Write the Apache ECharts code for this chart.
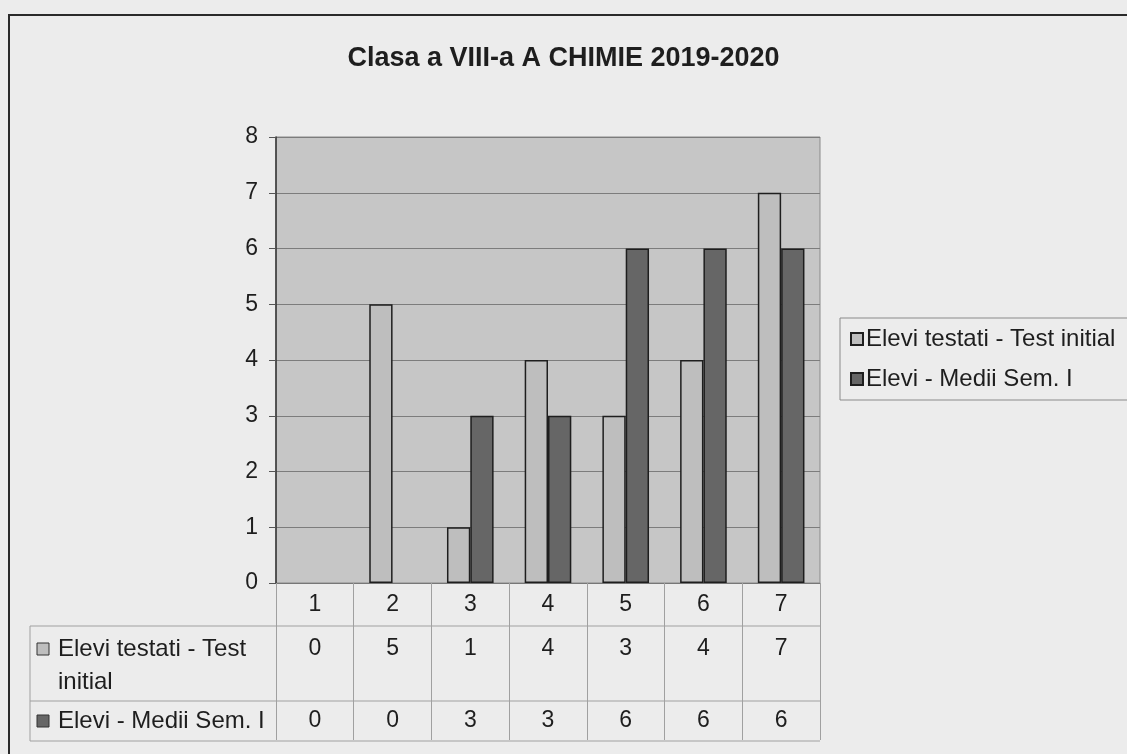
<!DOCTYPE html>
<html style="height: 100%">
   <head>
       <meta charset="utf-8">
   </head>
   <body style="height: 100%; margin: 0; background: #ececec">
       <div id="container" style="width: 1127px; height: 754px"></div>
       <script type="text/javascript" src="https://cdn.jsdelivr.net/npm/echarts@6/dist/echarts.min.js"></script>
       <script type="text/javascript">
var dom = document.getElementById("container");
var myChart = echarts.init(dom);

var chartTitle = 'Clasa a VIII-a A CHIMIE 2019-2020';
var categories = ['1', '2', '3', '4', '5', '6', '7'];
var seriesNames = ['Elevi testati - Test initial', 'Elevi - Medii Sem. I'];
var testInitial = [0, 5, 1, 4, 3, 4, 7];
var mediiSem = [0, 0, 3, 3, 6, 6, 6];
// row labels of the data table (first one wraps like in excel)
var rowLabels = [['Elevi testati - Test', 'initial'], ['Elevi - Medii Sem. I']];

var lightFill = '#bebebe';
var darkFill = '#666666';
var font = 'Liberation Sans, Arial, sans-serif';

// zero bars have no outline in excel
function barData(vals) {
    return vals.map(function (v) {
        return v === 0 ? { value: v, itemStyle: { borderWidth: 0 } } : v;
    });
}

var option = {
    backgroundColor: '#ececec',
    animation: false,
    title: {
        text: chartTitle,
        left: 'center',
        top: 40,
        textStyle: { fontFamily: font, fontSize: 27, fontWeight: 'bold', color: '#1e1e1e' }
    },
    legend: {
        orient: 'vertical',
        left: 840,
        top: 318,
        padding: [9, 30, 9, 10],
        itemGap: 16,
        itemWidth: 12,
        itemHeight: 12,
        icon: 'rect',
        borderColor: '#8a8a8a',
        borderWidth: 1,
        textStyle: { fontFamily: font, fontSize: 24, color: '#1e1e1e', padding: [0, 0, 0, -2] },
        data: seriesNames
    },
    grid: {
        left: 276,
        top: 137,
        right: 307,
        bottom: 171,
        show: true,
        backgroundColor: '#c6c6c6',
        borderColor: '#8a8a8a',
        borderWidth: 1
    },
    xAxis: {
        type: 'category',
        data: categories,
        axisLine: { lineStyle: { color: '#777', width: 1 } },
        axisTick: { show: true, length: 157, lineStyle: { color: '#a0a0a0' } },
        axisLabel: { fontFamily: font, fontSize: 23, color: '#1e1e1e', margin: 10 }
    },
    yAxis: {
        type: 'value',
        min: 0,
        max: 8,
        interval: 1,
        axisLine: { show: true, lineStyle: { color: '#333', width: 1.5 } },
        axisTick: { show: true, length: 7, lineStyle: { color: '#555' } },
        axisLabel: { fontFamily: font, fontSize: 23, color: '#1e1e1e', margin: 18 },
        splitLine: { lineStyle: { color: '#7c7c7c', width: 1 } }
    },
    series: [
        {
            name: seriesNames[0],
            type: 'bar',
            data: barData(testInitial),
            barGap: '0%',
            barCategoryGap: '40%',
            itemStyle: { color: lightFill, borderColor: '#1e1e1e', borderWidth: 1.5 }
        },
        {
            name: seriesNames[1],
            type: 'bar',
            data: barData(mediiSem),
            itemStyle: { color: darkFill, borderColor: '#1e1e1e', borderWidth: 1.5 }
        }
    ]
};
myChart.setOption(option);

// data table under the plot
var tableLeft = 30, tableRight = 820;
var rowLines = [626, 701, 741];
var rowValueY = [649, 721];
var rowSeries = [testInitial, mediiSem];
var rowFill = [lightFill, darkFill];
var graphic = [
    {
        type: 'rect',
        shape: { x: 9, y: 15, width: 1300, height: 900 },
        style: { fill: 'none', stroke: '#2a2a2a', lineWidth: 2 }
    },
    {
        type: 'line',
        shape: { x1: tableLeft, y1: rowLines[0], x2: tableLeft, y2: rowLines[2] },
        style: { stroke: '#a0a0a0', lineWidth: 1 }
    }
];
rowLines.forEach(function (y) {
    graphic.push({
        type: 'line',
        shape: { x1: tableLeft, y1: y, x2: tableRight, y2: y },
        style: { stroke: '#a0a0a0', lineWidth: 1 }
    });
});
rowSeries.forEach(function (vals, r) {
    graphic.push({
        type: 'rect',
        shape: { x: 37, y: rowValueY[r] - 6, width: 12, height: 12 },
        style: { fill: rowFill[r], stroke: '#333', lineWidth: 1 }
    });
    rowLabels[r].forEach(function (txt, k) {
        graphic.push({
            type: 'text',
            x: 58,
            y: rowValueY[r] + k * 33,
            style: { text: txt, font: '24px ' + font, fill: '#1e1e1e', verticalAlign: 'middle' }
        });
    });
    vals.forEach(function (v, i) {
        var px = myChart.convertToPixel({ xAxisIndex: 0 }, categories[i]);
        graphic.push({
            type: 'text',
            x: px,
            y: rowValueY[r],
            style: { text: String(v), font: '23px ' + font, fill: '#1e1e1e', align: 'center', verticalAlign: 'middle' }
        });
    });
});
myChart.setOption({ graphic: graphic });
       </script>
   </body>
</html>
